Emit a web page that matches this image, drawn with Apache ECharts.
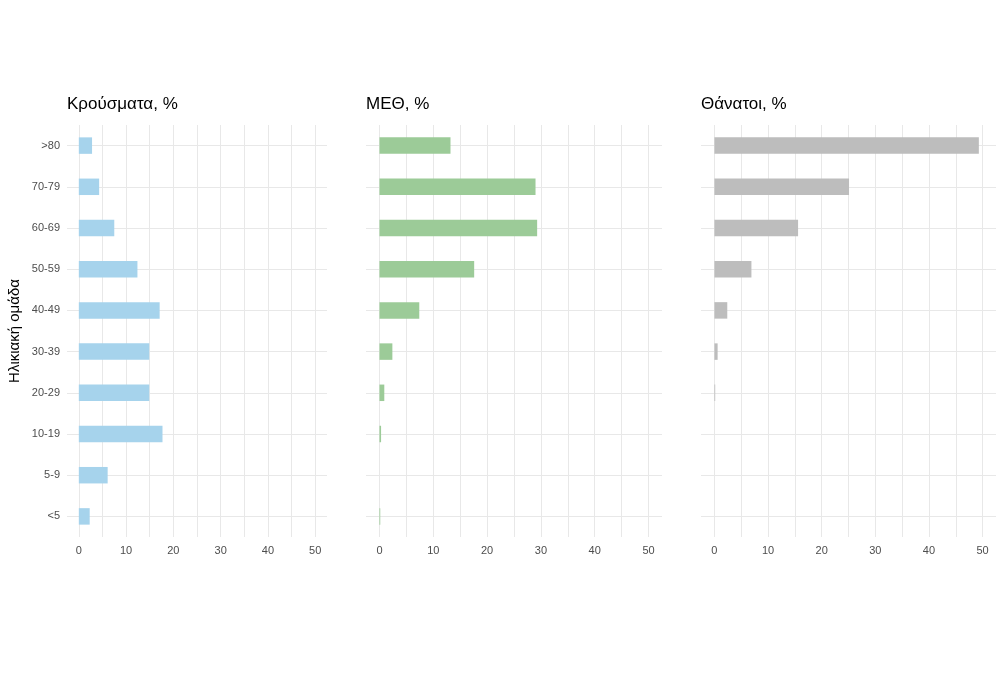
<!DOCTYPE html>
<html>
<head>
<meta charset="utf-8">
<script src="https://cdn.jsdelivr.net/npm/echarts@6/dist/echarts.min.js"></script>
<style>
html,body{margin:0;padding:0;background:#fff;}
#chart{width:1000px;height:675px;}
</style>
</head>
<body>
<div id="chart"></div>
<script>
// Age groups (bottom to top)
const ageGroups = ['<5', '5-9', '10-19', '20-29', '30-39', '40-49', '50-59', '60-69', '70-79', '>80'];
// Percent values per age group
const cases  = [2.3, 6.1, 17.7, 14.9, 14.9, 17.1, 12.4, 7.5, 4.3, 2.8];
const icu    = [0.15, 0, 0.3, 0.9, 2.4, 7.4, 17.6, 29.3, 29.0, 13.2];
const deaths = [0, 0, 0, 0.15, 0.6, 2.4, 6.9, 15.6, 25.1, 49.3];
const panelTitles = ['Κρούσματα, %', 'ΜΕΘ, %', 'Θάνατοι, %'];
const xTickLabels = [0, 10, 20, 30, 40, 50];
const xGridValues = [0, 5, 10, 15, 20, 25, 30, 35, 40, 45, 50];
const yAxisTitle = 'Ηλικιακή ομάδα';

const FONT = 'Liberation Sans, Arial, sans-serif';
const GRID_COLOR = '#e8e8e8';
const colors = ['#a6d3ec', '#9ccb98', '#bdbdbd'];
const seriesData = [cases, icu, deaths];

const grids = [
  {left: 67,  top: 125, width: 260, height: 412},
  {left: 366, top: 125, width: 296, height: 412},
  {left: 701, top: 125, width: 295, height: 412}
];

const chart = echarts.init(document.getElementById('chart'), null, {renderer: 'canvas'});

const option = {
  backgroundColor: '#ffffff',
  animation: false,
  title: panelTitles.map((t, i) => ({
    text: t,
    left: grids[i].left - 5,
    top: 91,
    textStyle: {fontFamily: FONT, fontSize: 17, fontWeight: 'normal', color: '#000000'}
  })),
  grid: grids.map(g => Object.assign({containLabel: false}, g)),
  xAxis: grids.map((g, i) => ({
    type: 'value',
    gridIndex: i,
    min: -2.5,
    max: 52.5,
    axisLine: {show: false},
    axisTick: {show: false, customValues: xGridValues},
    axisLabel: {
      customValues: xTickLabels,
      fontFamily: FONT, fontSize: 11, color: '#4d4d4d', margin: 8
    },
    splitLine: {show: true, lineStyle: {color: GRID_COLOR, width: 1}}
  })),
  yAxis: grids.map((g, i) => ({
    type: 'category',
    gridIndex: i,
    data: ageGroups,
    name: i === 0 ? yAxisTitle : '',
    nameLocation: 'middle',
    nameGap: 45,
    nameTextStyle: {fontFamily: FONT, fontSize: 15, color: '#000000'},
    axisLine: {show: false},
    axisTick: {show: false, alignWithLabel: true},
    axisLabel: {
      show: i === 0,
      fontFamily: FONT, fontSize: 11, color: '#4d4d4d', margin: 7
    },
    splitLine: {show: true, alignWithLabel: true, lineStyle: {color: GRID_COLOR, width: 1}}
  })),
  series: seriesData.map((d, i) => ({
    type: 'bar',
    xAxisIndex: i,
    yAxisIndex: i,
    data: d,
    barWidth: '40%',
    itemStyle: {color: colors[i]},
    silent: true
  }))
};

chart.setOption(option);
</script>
</body>
</html>
